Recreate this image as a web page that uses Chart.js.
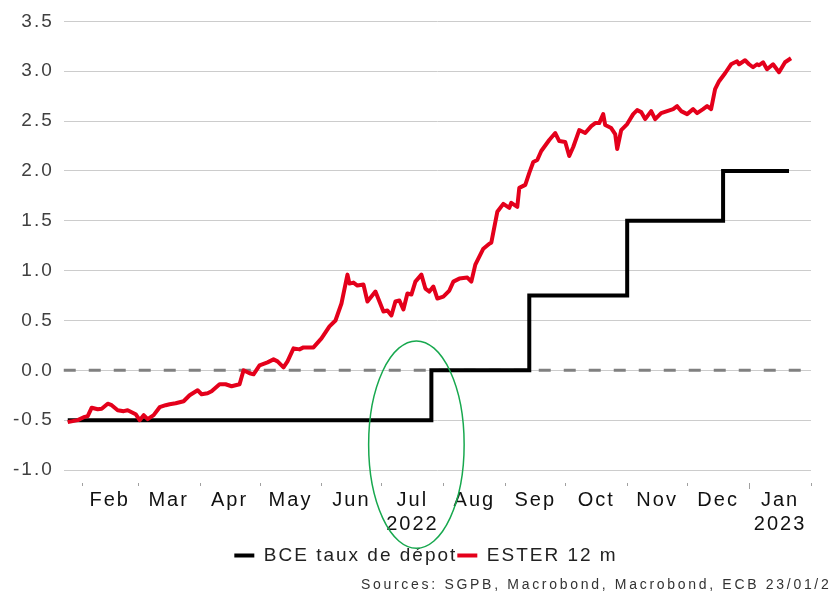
<!DOCTYPE html>
<html>
<head>
<meta charset="utf-8">
<title>BCE taux de dépot / ESTER 12 m</title>
<script src="https://cdn.jsdelivr.net/npm/chart.js@4.4.1/dist/chart.umd.min.js"></script>
<style>
  html, body { margin: 0; padding: 0; background: #fff; overflow: hidden; }
  #wrap { position: relative; width: 830px; height: 596px; overflow: hidden; }
  #sources { position: absolute; left: 361px; top: 576px; font: 14px "Liberation Sans", Arial, sans-serif;
             letter-spacing: 2.7px; color: #333; white-space: nowrap; }
</style>
</head>
<body>
<div id="wrap">
  <canvas id="chart" width="830" height="596"></canvas>
  <div id="sources">Sources: SGPB, Macrobond, Macrobond, ECB 23/01/2023</div>
</div>
<script>
// x values are days counted from 1 Jan 2022 (day 0)
var monthStarts = [31, 59, 90, 120, 151, 181, 212, 243, 273, 304, 334, 365, 396];
var monthNames = ['Feb', 'Mar', 'Apr', 'May', 'Jun', 'Jul', 'Aug', 'Sep', 'Oct', 'Nov', 'Dec', 'Jan'];
var yearNames = ['', '', '', '', '', '2022', '', '', '', '', '', '2023'];
var yTicks = [-1.0, -0.5, 0.0, 0.5, 1.0, 1.5, 2.0, 2.5, 3.0, 3.5];

// ECB deposit rate: day of each change and the new level (last point = end of series)
var bceDays = [24, 206, 255, 304, 352, 385];
var bceValues = [-0.5, 0.0, 0.75, 1.5, 2.0, 2.0];

// ESTER 12 m
var esterDays = [24, 29, 32, 34, 36, 39, 41, 44, 46, 49, 52, 54, 56, 58, 60, 62, 64, 67, 70, 73,
  75, 78, 82, 85, 89, 91, 94, 96, 100, 103, 106, 110, 112, 115, 117, 120, 124, 127, 129, 132,
  134, 137, 140, 142, 147, 151, 155, 158, 161, 164, 165, 167, 169, 172, 174, 178, 182, 184, 186, 188,
  190, 192, 194, 196, 198, 201, 203, 205, 207, 209, 212, 215, 217, 220, 224, 226, 228, 232, 235, 236,
  239, 242, 245, 246, 249, 250, 253, 255, 257, 259, 261, 265, 268, 270, 273, 275, 277, 280, 283, 286,
  288, 290, 292, 293, 296, 298, 299, 301, 304, 307, 309, 311, 313, 316, 318, 321, 324, 327, 329, 331,
  334, 337, 339, 342, 344, 346, 348, 350, 353, 356, 359, 360, 363, 365, 367, 369, 370, 372, 374, 377,
  380, 383, 386];
var esterValues = [-0.52, -0.50, -0.47, -0.46, -0.375, -0.39, -0.385, -0.335, -0.35, -0.40, -0.41, -0.40, -0.42, -0.44, -0.50, -0.45, -0.49, -0.45, -0.37, -0.35,
  -0.34, -0.33, -0.31, -0.25, -0.20, -0.24, -0.23, -0.21, -0.14, -0.14, -0.16, -0.14, 0.00, -0.03, -0.04, 0.05, 0.08, 0.11, 0.09, 0.03,
  0.09, 0.22, 0.21, 0.23, 0.23, 0.32, 0.44, 0.50, 0.67, 0.96, 0.87, 0.88, 0.85, 0.86, 0.69, 0.79, 0.59, 0.60, 0.55, 0.69,
  0.70, 0.61, 0.77, 0.76, 0.89, 0.96, 0.82, 0.79, 0.84, 0.72, 0.74, 0.80, 0.89, 0.92, 0.93, 0.89, 1.06, 1.22, 1.27, 1.28,
  1.59, 1.67, 1.63, 1.68, 1.64, 1.83, 1.86, 1.98, 2.09, 2.11, 2.20, 2.31, 2.38, 2.30, 2.29, 2.15, 2.24, 2.41, 2.38, 2.45,
  2.48, 2.48, 2.57, 2.46, 2.43, 2.37, 2.22, 2.41, 2.47, 2.57, 2.61, 2.59, 2.52, 2.60, 2.52, 2.58, 2.60, 2.62, 2.65, 2.60,
  2.57, 2.62, 2.58, 2.62, 2.65, 2.62, 2.82, 2.90, 2.98, 3.07, 3.10, 3.07, 3.11, 3.07, 3.04, 3.07, 3.06, 3.09, 3.02, 3.07,
  2.99, 3.09, 3.13];

// hand drawn green ring around July 2022 (centre and radii in axis units)
var ringCenter = [198.5, -0.745];
var ringRadius = [23.9, 1.04];

function toPoints(xs, ys) {
  return xs.map(function (x, i) { return { x: x, y: ys[i] }; });
}

Chart.defaults.font.family = '"Liberation Sans", Arial, sans-serif';

var extras = {
  id: 'extras',
  beforeUpdate: function (chart) { chart.ctx.letterSpacing = '2px'; },
  beforeDraw: function (chart) { chart.ctx.letterSpacing = '2px'; },
  afterLayout: function (chart) {
    // legend sits a bit right of centre in the original
    chart.legend.left += 19;
    chart.legend.right += 19;
  },
  beforeDatasetsDraw: function (chart) {
    var ctx = chart.ctx, area = chart.chartArea;
    var y0 = chart.scales.y.getPixelForValue(0);
    ctx.save();
    ctx.strokeStyle = '#808080';
    ctx.lineWidth = 3;
    ctx.setLineDash([12, 13]);
    ctx.beginPath();
    ctx.moveTo(area.left, y0);
    ctx.lineTo(area.right, y0);
    ctx.stroke();
    ctx.restore();
  },
  afterDraw: function (chart) {
    var ctx = chart.ctx, xs = chart.scales.x, ys = chart.scales.y;
    var bottom = chart.chartArea.bottom;
    ctx.save();
    // month boundary marks
    ctx.strokeStyle = '#a0a0a0';
    ctx.lineWidth = 1;
    monthStarts.forEach(function (d) {
      var px = Math.round(xs.getPixelForValue(d)) + 0.5;
      var len = d === 365 ? 6 : 3;
      ctx.beginPath();
      ctx.moveTo(px, bottom + 13);
      ctx.lineTo(px, bottom + 13 + len);
      ctx.stroke();
    });
    // green ring
    var cx = xs.getPixelForValue(ringCenter[0]);
    var cy = ys.getPixelForValue(ringCenter[1]);
    var rx = xs.getPixelForValue(ringCenter[0] + ringRadius[0]) - cx;
    var ry = ys.getPixelForValue(ringCenter[1] - ringRadius[1]) - cy;
    ctx.strokeStyle = '#17a84e';
    ctx.lineWidth = 1.5;
    ctx.beginPath();
    ctx.ellipse(cx, cy, rx, ry, 0, 0, Math.PI * 2);
    ctx.stroke();
    ctx.restore();
  }
};

new Chart(document.getElementById('chart'), {
  type: 'line',
  data: {
    datasets: [{
      label: 'BCE taux de dépot',
      data: toPoints(bceDays, bceValues),
      borderColor: '#000000',
      backgroundColor: '#000000',
      borderWidth: 4,
      stepped: true,
      pointRadius: 0,
      order: 1
    }, {
      label: 'ESTER 12 m',
      data: toPoints(esterDays, esterValues),
      borderColor: '#e4001b',
      backgroundColor: '#e4001b',
      borderWidth: 4,
      borderJoinStyle: 'round',
      tension: 0,
      pointRadius: 0,
      order: 0
    }]
  },
  options: {
    responsive: false,
    animation: false,
    layout: { padding: { top: 13, right: 19, bottom: 21, left: 3 } },
    plugins: {
      legend: {
        position: 'bottom',
        labels: {
          boxWidth: 20,
          boxHeight: 4,
          padding: 0,
          color: '#222',
          font: { size: 19 },
          generateLabels: function (chart) {
            var items = Chart.defaults.plugins.legend.labels.generateLabels(chart);
            items.forEach(function (it) { it.lineWidth = 0; });
            return items;
          },
          sort: function (a, b) { return a.datasetIndex - b.datasetIndex; }
        }
      },
      tooltip: { enabled: false }
    },
    scales: {
      x: {
        type: 'linear',
        min: 22,
        max: 396,
        grid: { display: false },
        border: { display: false },
        afterBuildTicks: function (axis) {
          axis.ticks = monthNames.map(function (m, i) {
            return { value: (monthStarts[i] + monthStarts[i + 1]) / 2 };
          });
        },
        ticks: {
          autoSkip: false,
          maxRotation: 0,
          padding: 10,
          color: '#111',
          font: { size: 20 },
          callback: function (v, i) {
            return yearNames[i] ? [monthNames[i], yearNames[i]] : monthNames[i];
          }
        }
      },
      y: {
        min: -1,
        max: 3.5,
        grid: { color: '#cccccc', drawTicks: false },
        border: { display: false },
        afterBuildTicks: function (axis) {
          axis.ticks = yTicks.map(function (v) { return { value: v }; });
        },
        ticks: {
          padding: 10,
          color: '#404040',
          font: { size: 19 },
          callback: function (v) { return v.toFixed(1); }
        }
      }
    }
  },
  plugins: [extras]
});
</script>
</body>
</html>
